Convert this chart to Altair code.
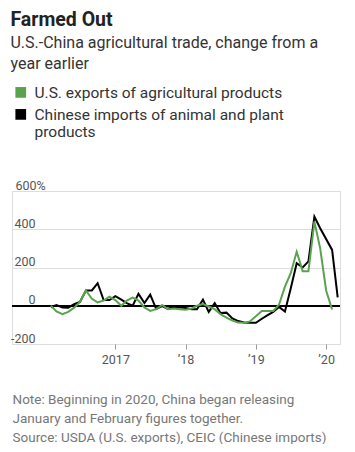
import altair as alt
import pandas as pd

# Monthly points, Feb 2016 .. Mar 2020 (change from a year earlier, %)
months = pd.date_range("2016-02-01", "2020-03-01", freq="MS").strftime("%Y-%m-%dT00:00:00").tolist()

us_exports = [0, -30, -44, -32, -10, 20, 80, 36, 18, 27, 48, 30,
              0, 27, 42, 27, -9, -27, -18, 4, -18, -14, -18, -21,
              -14, 0, 9, -4, -18, -44, -62, -78, -88, -89, -82, -55,
              -27, -27, -27, 5, 100, 170, 282, 181, 181, 440, 300, 80,
              -20, None]

china_imports = [-8, 4, -9, -10, 8, 20, 80, 80, 118, 30, 30, 50,
                 32, 14, 0, 62, 14, 58, -16, -2, -16, -5, -9, -12,
                 -18, -18, 32, -32, 14, -38, -36, -66, -80, -88, -89, -89,
                 -68, -50, -32, -6, -30, 90, 222, 200, 232, 466, 405, None,
                 292, 44]

series_names = ["U.S. exports of agricultural products",
                "Chinese imports of animal and plant products"]
series_colors = ["#5ba24f", "#000000"]

y_ticks = [-200, 0, 200, 400, 600]
x_ticks = [2017, 2018, 2019, 2020]

title_text = "Farmed Out"
subtitle_lines = ["U.S.-China agricultural trade, change from a", "year earlier"]
note_lines = ["Note: Beginning in 2020, China began releasing",
              "January and February figures together.",
              "Source: USDA (U.S. exports), CEIC (Chinese imports)"]

rows = []
for name, vals in zip(series_names, [us_exports, china_imports]):
    for d, v in zip(months, vals):
        if v is not None:
            rows.append({"series": name, "date": d, "value": v})
df = pd.DataFrame(rows)

FONT = "Roboto"

color = alt.Color(
    "series:N",
    scale=alt.Scale(domain=series_names, range=series_colors),
    legend=alt.Legend(
        title=None,
        orient="none",
        legendX=1,
        legendY=-101,
        direction="vertical",
        labelFont=FONT,
        labelFontSize=15.5,
        labelColor="#333333",
        labelBaseline="alphabetic",
        labelLimit=400,
        labelOffset=6,
        rowPadding=-15,
        symbolType="M-1,-6.35H1V-4.35H-1Z",
        symbolSize=4,
        symbolStrokeWidth=8.7,
        symbolOpacity=1,
        labelExpr="datum.label == 'Chinese imports of animal and plant products' ? ['Chinese imports of animal and plant', 'products'] : datum.label",
    ),
)

x = alt.X(
    "date:T",
    scale=alt.Scale(domain=[alt.DateTime(year=2015, month=7, date=14),
                            alt.DateTime(year=2020, month=3, date=13)]),
    axis=alt.Axis(
        values=[alt.DateTime(year=y, month=1, date=1) for y in x_ticks],
        labelExpr="year(datum.value) == 2017 ? '2017' : '\u2019' + slice(toString(year(datum.value)), 2)",
        domain=False,
        grid=False,
        tickSize=5,
        tickColor="#999999",
        labelFont=FONT,
        labelFontSize=12.5,
        labelColor="#555555",
        labelPadding=4,
        labelFlush=False,
        labelOverlap=False,
        title=note_lines,
        titleFont=FONT,
        titleFontSize=13.5,
        titleFontWeight="normal",
        titleColor="#777777",
        titleAnchor="start",
        titleAlign="left",
        titleLineHeight=19,
        titlePadding=27,
    ),
)

y_scale = alt.Scale(domain=[-200, 600], nice=False, zero=False)
y_axis = alt.Axis(
    values=y_ticks,
    labelExpr="datum.value == 600 ? '600%' : toString(datum.value)",
    domain=False,
    ticks=False,
    grid=True,
    gridColor="#dddddd",
    gridWidth=1,
    labelFont=FONT,
    labelFontSize=12.5,
    labelColor="#555555",
    labelBaseline="alphabetic",
    labelFlush=False,
    labelOverlap=False,
    labelAlign={"condition": {"test": "datum.value == 600", "value": "left"}, "value": "right"},
    labelPadding={"condition": {"test": "datum.value == 600", "value": -3}, "value": -23},
    labelOffset=-2,
    title=None,
)

y = alt.Y("value:Q", scale=y_scale, axis=y_axis)

black_line = alt.Chart(df).transform_filter(
    alt.datum.series == series_names[1]
).mark_line(strokeWidth=2).encode(x=x, y=y, color=color)

green_line = alt.Chart(df).transform_filter(
    alt.datum.series == series_names[0]
).mark_line(strokeWidth=2).encode(x=x, y=y, color=color)

zero_rule = alt.Chart(df).mark_rule(color="black", strokeWidth=1).encode(
    y=alt.Y(datum=0, type="quantitative", scale=y_scale, axis=y_axis)
)

chart = alt.layer(zero_rule, black_line, green_line).properties(
    width=328,
    height=153,
    padding={"left": 2, "top": 1, "right": 0, "bottom": 0},
    title=alt.TitleParams(
        text=title_text,
        subtitle=subtitle_lines,
        anchor="start",
        font=FONT,
        fontSize=19.5,
        fontWeight="bold",
        color="#222222",
        subtitleFont=FONT,
        subtitleFontSize=16,
        subtitleColor="#333333",
        subtitleLineHeight=21,
        subtitlePadding=5,
        offset=17,
    ),
).configure_view(stroke=None).configure_axisY(labelOverlap=False).configure(background="white")

chart.save("out.html", embed_options={"renderer": "svg", "actions": False})
